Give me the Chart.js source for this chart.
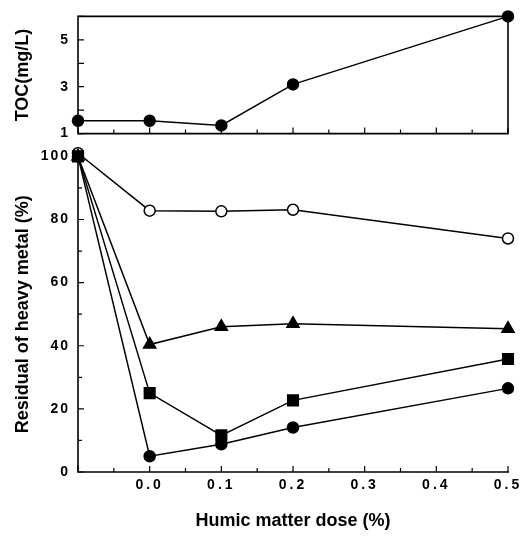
<!DOCTYPE html>
<html><head><meta charset="utf-8">
<script src="https://cdn.jsdelivr.net/npm/chart.js@4"></script>
<style>
html,body{margin:0;padding:0;background:#fff;width:526px;height:537px;overflow:hidden;position:relative}
.w{position:absolute;left:0;width:526px}
</style></head><body>
<div class="w" style="top:0;height:150px"><canvas id="c1"></canvas></div>
<div class="w" style="top:140px;height:397px"><canvas id="c2"></canvas></div>
<script>
// ---- data ----
const doses = [-0.1, 0.0, 0.1, 0.2, 0.5];
const tocValues = [1.55, 1.55, 1.35, 3.1, 6.0];
const openCircle = [101, 82.8, 82.6, 83.1, 74.0];
const triangle = [100, 40.4, 46.0, 47.0, 45.4];
const square = [100, 25.0, 11.6, 22.7, 35.8];
const filledCircle = [100, 5.0, 8.8, 14.1, 26.5];
const xTickLabels = ['0.0', '0.1', '0.2', '0.3', '0.4', '0.5'];
const tocTickLabels = ['1', '3', '5'];
const residualTickLabels = ['0', '20', '40', '60', '80', '100'];

const FONT = "'Liberation Sans', Arial, sans-serif";
const pts = arr => doses.map((d, i) => ({x: d, y: arr[i]}));

function spaced(scale, sp) {
  if (scale._spaced) return;
  scale._spaced = true;
  const orig = scale.drawLabels;
  scale.drawLabels = function (ca) {
    this.ctx.save(); this.ctx.letterSpacing = sp; orig.call(this, ca); this.ctx.restore();
  };
}

const frame = {
  id: 'frame',
  afterUpdate(chart) { spaced(chart.scales.x, '3px'); spaced(chart.scales.y, '2px'); },
  beforeDatasetsDraw(chart, args, opts) {
    const {ctx, chartArea: a, scales} = chart;
    ctx.save(); ctx.strokeStyle = '#000'; ctx.lineWidth = 1.6;
    ctx.beginPath();
    if (opts.box) ctx.rect(a.left, a.top, a.right - a.left, a.bottom - a.top);
    else { ctx.moveTo(a.left, a.top - 4); ctx.lineTo(a.left, a.bottom); ctx.lineTo(a.right + 1, a.bottom); }
    ctx.stroke();
    ctx.lineWidth = 1.2; ctx.beginPath();
    const xs = scales.x, ys = scales.y;
    const xt = xs.ticks.map(t => t.value);
    xt.forEach((v, i) => {
      const p = xs.getPixelForValue(v);
      ctx.moveTo(p, a.bottom); ctx.lineTo(p, a.bottom - 6);
      if (i < xt.length - 1) {
        const m = xs.getPixelForValue((v + xt[i + 1]) / 2);
        ctx.moveTo(m, a.bottom); ctx.lineTo(m, a.bottom - 4);
      }
    });
    const yt = ys.ticks.map(t => t.value);
    yt.forEach((v, i) => {
      const p = ys.getPixelForValue(v);
      ctx.moveTo(a.left, p); ctx.lineTo(a.left + 6, p);
      if (opts.minorY && i < yt.length - 1) {
        const m = ys.getPixelForValue((v + yt[i + 1]) / 2);
        ctx.moveTo(a.left, m); ctx.lineTo(a.left + 4, m);
      }
    });
    ctx.stroke(); ctx.restore();
  }
};

function xScale(showLabels, height, title) {
  return {
    type: 'linear', min: -0.1, max: 0.5,
    grid: {display: false, drawTicks: false}, border: {display: false},
    ticks: {
      stepSize: 0.1, display: showLabels, padding: 5, color: '#000',
      font: {family: FONT, size: 14, weight: 'bold'},
      callback: v => { const s = (Math.round(v * 10) / 10).toFixed(1); return xTickLabels.includes(s) ? s : ''; }
    },
    title: title ? {display: true, text: title, color: '#000', font: {family: FONT, size: 18, weight: 'bold'}, padding: {top: 0, bottom: 5}} : {display: false},
    afterFit: s => { s.height = height; }
  };
}
function yScale(min, max, step, labels, title, titlePad) {
  return {
    type: 'linear', min, max,
    grid: {display: false, drawTicks: false}, border: {display: false},
    ticks: {
      stepSize: step, padding: 8, color: '#000', autoSkip: false,
      font: {family: FONT, size: 14, weight: 'bold'},
      callback: v => labels.includes(String(v)) ? String(v) : ''
    },
    title: {display: true, text: title, color: '#000', font: {family: FONT, size: 18, weight: 'bold'}, padding: {top: titlePad, bottom: 0}},
    afterFit: s => { s.width = 78; }
  };
}
const lineDs = (data, style, radius, fill, order) => ({
  data: pts(data), borderColor: '#000', borderWidth: 1.5, pointStyle: style,
  pointRadius: radius, pointHoverRadius: radius, pointBackgroundColor: fill, pointBorderColor: '#000',
  pointBorderWidth: 1.5, tension: 0, clip: false, order
});

new Chart(document.getElementById('c1'), {
  type: 'line',
  data: {datasets: [lineDs(tocValues, 'circle', 5.5, '#000', 0)]},
  options: {
    responsive: true, maintainAspectRatio: false, animation: false, devicePixelRatio: 1,
    layout: {padding: {left: 0, right: 18, top: 13, bottom: 0}},
    plugins: {legend: {display: false}, tooltip: {enabled: false}, frame: {box: true, minorY: false}},
    scales: {x: xScale(false, 16, null), y: yScale(1, 6, 1, tocTickLabels, 'TOC(mg/L)', 12)}
  },
  plugins: [frame]
});

new Chart(document.getElementById('c2'), {
  type: 'line',
  data: {datasets: [
    lineDs(openCircle, 'circle', 5.5, '#fff', 4),
    lineDs(triangle, 'triangle', 7, '#000', 3),
    lineDs(square, 'rect', 7.5, '#000', 1),
    lineDs(filledCircle, 'circle', 5.5, '#000', 2)
  ]},
  options: {
    responsive: true, maintainAspectRatio: false, animation: false, devicePixelRatio: 1,
    layout: {padding: {left: 0, right: 18, top: 12, bottom: 0}},
    plugins: {legend: {display: false}, tooltip: {enabled: false}, frame: {box: false, minorY: true}},
    scales: {x: xScale(true, 65, 'Humic matter dose (%)'), y: yScale(0, 100, 20, residualTickLabels, 'Residual of heavy metal (%)', 12)}
  },
  plugins: [frame]
});
</script>
</body></html>
